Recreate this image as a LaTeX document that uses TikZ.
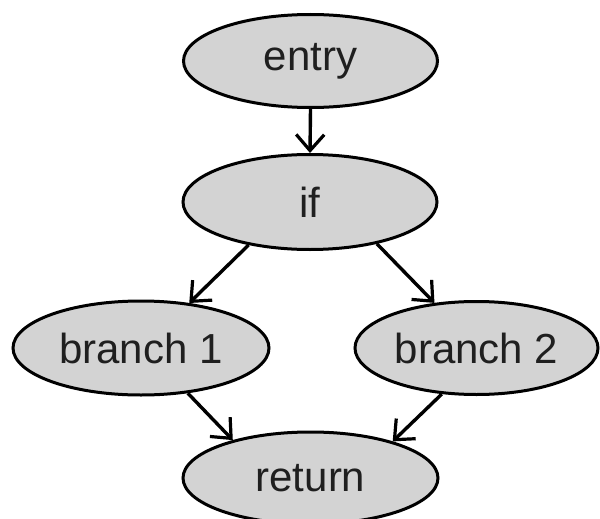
\documentclass[tikz,border=0pt]{standalone}
\usepackage{fontspec}
\setmainfont{Liberation Sans}
\usetikzlibrary{shapes.geometric,arrows.meta}
\definecolor{nodefill}{HTML}{D3D3D3}
\begin{document}
\begin{tikzpicture}[x=1pt,y=-1pt,
  blob/.style={ellipse,draw=black,fill=nodefill,line width=3pt,inner sep=0pt,
    font=\fontsize{42}{48}\selectfont,text=black!88},
  flow/.style={line width=3.4pt,-{Straight Barb[length=16pt,width=28pt,line width=3.2pt]}}]
\useasboundingbox (0,0) rectangle (600,519);
\node[blob,minimum width=254pt,minimum height=93pt] (entry) at (310.5,61) {entry};
\node[blob,minimum width=254pt,minimum height=95pt] (if) at (310,202) {if};
\node[blob,minimum width=256pt,minimum height=94pt] (b1) at (141,348) {branch 1};
\node[blob,minimum width=243pt,minimum height=93pt] (b2) at (476.5,348) {branch 2};
\node[blob,minimum width=255pt,minimum height=92pt] (ret) at (310.5,478) {return};
\draw[flow] (entry.south) -- (if.north);
\draw[flow] (if.215) -- (b1.43);
\draw[flow] (if.328) -- (b2.133);
\draw[flow] (b1.316) -- (ret.154);
\draw[flow] (b2.233) -- (ret.24);
\end{tikzpicture}
\end{document}
